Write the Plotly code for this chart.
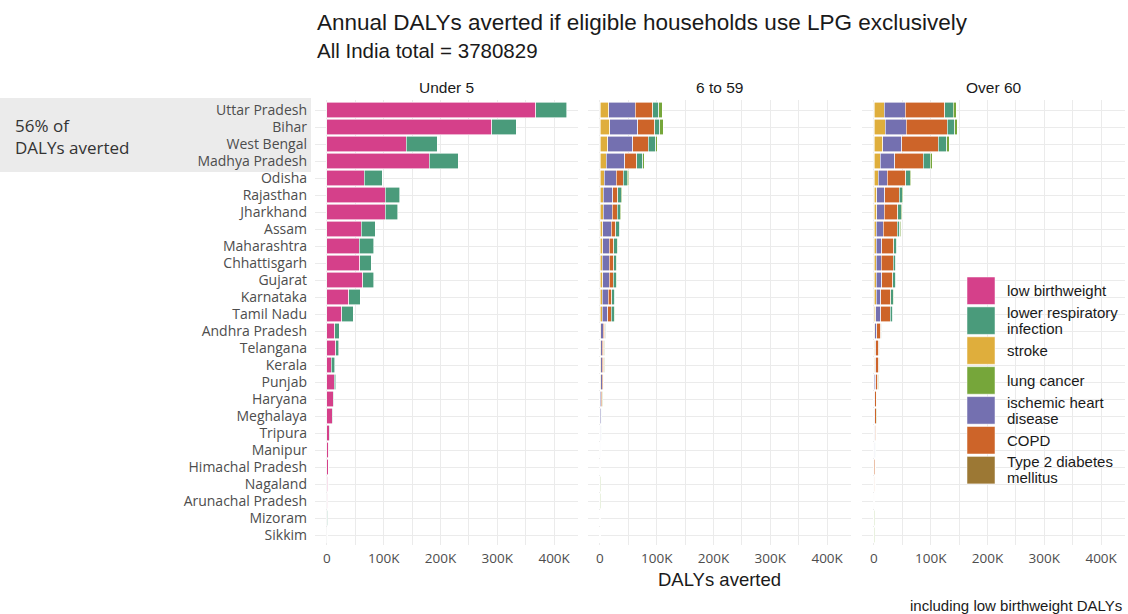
import plotly.graph_objects as go

W, H = 1128, 614

states = ["Uttar Pradesh", "Bihar", "West Bengal", "Madhya Pradesh", "Odisha",
          "Rajasthan", "Jharkhand", "Assam", "Maharashtra", "Chhattisgarh",
          "Gujarat", "Karnataka", "Tamil Nadu", "Andhra Pradesh", "Telangana",
          "Kerala", "Punjab", "Haryana", "Meghalaya", "Tripura", "Manipur",
          "Himachal Pradesh", "Nagaland", "Arunachal Pradesh", "Mizoram", "Sikkim"]

age_groups = ["Under 5", "6 to 59", "Over 60"]

causes = ["low birthweight", "lower respiratory infection", "stroke", "lung cancer",
          "ischemic heart disease", "COPD", "Type 2 diabetes mellitus"]
legend_lines = [["low birthweight"], ["lower respiratory", "infection"], ["stroke"],
                ["lung cancer"], ["ischemic heart", "disease"], ["COPD"],
                ["Type 2 diabetes", "mellitus"]]
colors = ["#D5408A", "#4A9B7B", "#DFAE3C", "#76A63A", "#7470B0", "#CD6429", "#9C7834"]

# DALYs averted, thousands
u5_lbw = [368, 290, 140, 180, 66, 103, 103, 60, 57, 58, 63, 38, 26, 13.4, 15.8, 8,
          12.8, 11.5, 9, 4.5, 3, 2, 1.7, 1.5, 0.8, 0.4]
u5_lri = [54, 43, 54, 51, 31, 25, 22, 25, 25, 20, 19, 21, 20, 8.6, 5.2, 6, 3, 0.6,
          1, 0.8, 0.5, 0.3, 0.3, 0.3, 0.2, 0.1]

a659_t2d = [0.6, 0.6, 0.5, 0.4, 0.3, 0.2, 0.2, 0.2, 0.2, 0.2, 0.2, 0.2, 0.2, 0.1,
            0.1, 0.1, 0.1, 0.05, 0.05, 0.05, 0.03, 0.03, 0.02, 0.02, 0.01, 0.01]
a659_stroke = [15, 16.4, 13.4, 10.5, 7.6, 5.8, 5.2, 4.6, 5, 4, 4.5, 4, 3.8, 1.5, 1.2,
               1.2, 1, 0.7, 0.5, 0.4, 0.3, 0.2, 0.15, 0.15, 0.1, 0.07]
a659_ihd = [47, 50, 44, 33, 20.5, 17, 16, 15.4, 11.4, 11.8, 12, 10.5, 10, 4.2, 3.2,
            3.2, 2.8, 1.8, 1.4, 1.2, 0.8, 0.6, 0.4, 0.4, 0.28, 0.2]
a659_copd = [30.6, 29.4, 27, 20.5, 12.5, 8.8, 9, 8, 7.6, 8.3, 7, 6.5, 6, 2.5, 1.9,
             1.8, 1.7, 1.1, 0.8, 0.7, 0.5, 0.4, 0.25, 0.25, 0.17, 0.12]
a659_lri = [10.6, 9, 13, 11, 7, 5.8, 5.7, 6.5, 6, 4.7, 5, 5, 5, 2, 1.4, 1.5, 1.2,
            0.8, 0.6, 0.5, 0.3, 0.25, 0.15, 0.15, 0.1, 0.08]
a659_lung = [6, 6, 3, 3, 2.5, 1.8, 1.3, 1.5, 1, 0.8, 1, 0.8, 0.8, 0.4, 0.3, 0.3,
             0.3, 0.2, 0.2, 0.2, 0.1, 0.05, 0.05, 0.05, 0.05, 0.03]

o60_t2d = [0.8, 0.8, 0.7, 0.5, 0.3, 0.3, 0.3, 0.2, 0.2, 0.2, 0.2, 0.2, 0.2, 0.1,
           0.1, 0.1, 0.05, 0.05, 0.05, 0.05, 0.03, 0.03, 0.02, 0.02, 0.01, 0.01]
o60_stroke = [17, 18.7, 14.6, 11, 7, 5, 5, 4, 4, 4, 4, 3.5, 3.4, 1.4, 1, 1, 0.8,
              0.5, 0.45, 0.4, 0.3, 0.25, 0.2, 0.15, 0.1, 0.1]
o60_ihd = [37, 37, 33.5, 25, 16, 13.7, 12.6, 11.8, 10, 8.8, 9.5, 8.5, 8.2, 3.4, 2.4,
           2.4, 2, 1.2, 1.1, 1, 0.75, 0.6, 0.5, 0.37, 0.25, 0.25]
o60_copd = [70, 73, 64.6, 50, 32.6, 25.3, 24.4, 24.7, 20.5, 20.6, 19.5, 17, 16.5, 7,
            5, 5, 4, 2.5, 2.25, 2, 1.5, 1.25, 1, 0.75, 0.5, 0.5]
o60_lri = [15, 12.5, 14.6, 13, 8.4, 5.3, 5.5, 4.5, 5.3, 4.6, 5, 4.7, 4.5, 1.8, 1.3,
           1.3, 1, 0.65, 0.55, 0.5, 0.37, 0.32, 0.25, 0.19, 0.12, 0.12]
o60_lung = [4.7, 5, 5, 3.6, 1.7, 2.3, 1.8, 1.8, 1.2, 1, 1, 0.8, 0.8, 0.4, 0.3, 0.3,
            0.2, 0.15, 0.15, 0.1, 0.08, 0.08, 0.05, 0.04, 0.03, 0.03]

tick_vals = [0, 100000, 200000, 300000, 400000]
tick_text = ["0", "100K", "200K", "300K", "400K"]

# stacking order (left to right) within each panel
panels = [
    [("low birthweight", u5_lbw), ("lower respiratory infection", u5_lri)],
    [("Type 2 diabetes mellitus", a659_t2d), ("stroke", a659_stroke),
     ("ischemic heart disease", a659_ihd), ("COPD", a659_copd),
     ("lower respiratory infection", a659_lri), ("lung cancer", a659_lung)],
    [("Type 2 diabetes mellitus", o60_t2d), ("stroke", o60_stroke),
     ("ischemic heart disease", o60_ihd), ("COPD", o60_copd),
     ("lower respiratory infection", o60_lri), ("lung cancer", o60_lung)],
]

color_of = dict(zip(causes, colors))

fig = go.Figure()
for i, series in enumerate(panels):
    xa = "x" if i == 0 else f"x{i + 1}"
    ya = "y" if i == 0 else f"y{i + 1}"
    for cause, vals in series:
        fig.add_trace(go.Bar(
            y=states, x=[v * 1000 for v in vals], orientation="h",
            name=cause, xaxis=xa, yaxis=ya, width=0.9,
            marker=dict(color=color_of[cause], line=dict(color="white", width=0.6)),
            showlegend=False,
        ))

def px_x(p):
    return p / W

def px_y(p):
    return 1 - p / H

panel_px = [(315, 578), (588, 851), (862, 1125)]
ydom = [px_y(545.2), px_y(99.8)]

grid = "#EBEBEB"
label_family = "Open Sans, sans-serif"
head_font = "Liberation Sans, Arial, sans-serif"
ytick_font = dict(family=label_family, size=14, color="#4D4D4D")
xtick_font = dict(family=label_family, size=13.5, color="#4D4D4D")

layout = dict(
    width=W, height=H, margin=dict(l=0, r=0, t=0, b=0),
    paper_bgcolor="white", plot_bgcolor="white",
    barmode="stack", bargap=0.1,
    showlegend=False,
)
for i, (a, b) in enumerate(panel_px):
    xk = "xaxis" if i == 0 else f"xaxis{i + 1}"
    yk = "yaxis" if i == 0 else f"yaxis{i + 1}"
    layout[xk] = dict(
        domain=[px_x(a), px_x(b)], range=[-21000, 442000],
        anchor="y" if i == 0 else f"y{i + 1}",
        tickvals=tick_vals, ticktext=tick_text, tickfont=xtick_font,
        showgrid=True, gridcolor=grid, gridwidth=1.3, zeroline=False,
        showline=False, ticks="", ticklabelstandoff=3,
        minor=dict(dtick=50000, tick0=0, showgrid=True, gridcolor=grid, gridwidth=0.8),
    )
    layout[yk] = dict(
        domain=ydom, type="category", categoryorder="array", categoryarray=states,
        range=[len(states) - 0.4, -0.6],
        anchor="x" if i == 0 else f"x{i + 1}",
        showgrid=True, gridcolor=grid, gridwidth=1.3, zeroline=False,
        showline=False, ticks="", tickfont=ytick_font,
        showticklabels=(i == 0), ticklabelstandoff=7,
    )
    if i > 0:
        layout[yk]["matches"] = "y"
fig.update_layout(**layout)

ann = []
ann.append(dict(x=px_x(315), y=px_y(22), xref="paper", yref="paper",
                text="Annual DALYs averted if eligible households use LPG exclusively",
                showarrow=False, xanchor="left", yanchor="middle",
                font=dict(family=head_font, size=22.5, color="#1A1A1A")))
ann.append(dict(x=px_x(315), y=px_y(50), xref="paper", yref="paper",
                text="All India total = 3780829", showarrow=False,
                xanchor="left", yanchor="middle",
                font=dict(family=head_font, size=20.5, color="#1A1A1A")))
for (a, b), g in zip(panel_px, age_groups):
    ann.append(dict(x=px_x((a + b) / 2), y=px_y(87), xref="paper", yref="paper",
                    text=g, showarrow=False, xanchor="center", yanchor="middle",
                    font=dict(family=head_font, size=15.5, color="#1A1A1A")))
ann.append(dict(x=px_x((panel_px[1][0] + panel_px[1][1]) / 2), y=px_y(579),
                xref="paper", yref="paper", text="DALYs averted", showarrow=False,
                xanchor="center", yanchor="middle",
                font=dict(family=head_font, size=18.5, color="#1A1A1A")))
ann.append(dict(x=px_x(1124), y=px_y(605), xref="paper", yref="paper",
                text="including low birthweight DALYs", showarrow=False,
                xanchor="right", yanchor="middle",
                font=dict(family=head_font, size=15, color="#1A1A1A")))
ann.append(dict(x=px_x(13), y=px_y(136), xref="paper", yref="paper",
                text="56% of<br>DALYs averted", showarrow=False, align="left",
                xanchor="left", yanchor="middle",
                font=dict(family=label_family, size=17, color="#333333")))

shapes = [dict(type="rect", xref="paper", yref="paper", layer="below",
               x0=0, x1=px_x(311), y0=px_y(172), y1=px_y(98),
               fillcolor="#EBEBEB", line=dict(width=0))]

# legend: square keys with labels (two-line labels set with tight leading)
key_top = 277
step = 29.9
line_gap = 16
for k, (lines, col) in enumerate(zip(legend_lines, colors)):
    t = key_top + k * step
    mid = t + 13.5
    shapes.append(dict(type="rect", xref="paper", yref="paper",
                       x0=px_x(967), x1=px_x(995), y0=px_y(t + 27.5), y1=px_y(t),
                       fillcolor=col, line=dict(color="white", width=0.5)))
    first = mid - line_gap * (len(lines) - 1) / 2
    for j, line in enumerate(lines):
        ann.append(dict(x=px_x(1005), y=px_y(first + j * line_gap),
                        xref="paper", yref="paper", text=line, showarrow=False,
                        xanchor="left", yanchor="middle", align="left",
                        font=dict(family=head_font, size=15, color="#1A1A1A")))

fig.update_layout(annotations=ann, shapes=shapes)
fig.write_html("out.html")
